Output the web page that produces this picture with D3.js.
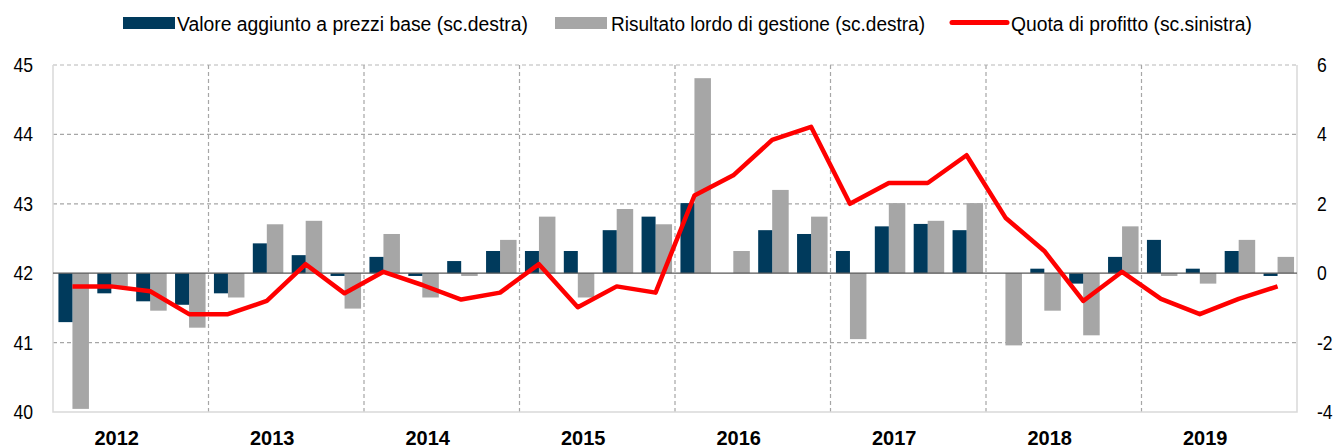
<!DOCTYPE html>
<html>
<head>
    <meta charset="utf-8">
    <title>Quota di profitto</title>
    <script src="https://d3js.org/d3.v7.min.js"></script>
    <style>
        body { margin: 0; background: #fff; }
        svg text { font-family: "Liberation Sans Narrow", "Arial Narrow", "Liberation Sans", Arial, sans-serif; fill: #000; }
        .year { font-family: "Liberation Sans", Arial, sans-serif; font-weight: bold; font-size: 20px; }
    </style>
</head>
<body>
<div id="chart"></div>
<script>
    // dati trimestrali 2012-2019
    const years = ["2012", "2013", "2014", "2015", "2016", "2017", "2018", "2019"];
    const quarters = years.flatMap(y => ["T1", "T2", "T3", "T4"].map(q => y + q));

    // valore aggiunto a prezzi base (scala destra)
    const valoreAggiunto = [
        -1.41, -0.58, -0.81, -0.91,
        -0.58, 0.86, 0.52, -0.08,
        0.47, -0.08, 0.35, 0.64,
        0.64, 0.64, 1.24, 1.63,
        2.02, 0, 1.24, 1.13,
        0.64, 1.35, 1.42, 1.24,
        0, 0.13, -0.30, 0.47,
        0.96, 0.13, 0.64, -0.08
    ];
    // risultato lordo di gestione (scala destra)
    const risultatoLordo = [
        -3.91, -0.38, -1.08, -1.57,
        -0.70, 1.41, 1.51, -1.02,
        1.13, -0.70, -0.08, 0.96,
        1.63, -0.70, 1.85, 1.41,
        5.62, 0.64, 2.40, 1.63,
        -1.90, 2.02, 1.51, 2.02,
        -2.08, -1.08, -1.79, 1.35,
        -0.08, -0.30, 0.96, 0.47
    ];
    // quota di profitto (scala sinistra)
    const quotaProfitto = [
        41.81, 41.81, 41.74, 41.41,
        41.41, 41.60, 42.13, 41.71,
        42.02, 41.83, 41.62, 41.72,
        42.13, 41.51, 41.81, 41.72,
        43.12, 43.41, 43.92, 44.11,
        43.00, 43.30, 43.30, 43.70,
        42.80, 42.32, 41.60, 42.02,
        41.63, 41.41, 41.63, 41.81
    ];
    const leftTicks = [40, 41, 42, 43, 44, 45];
    const rightTicks = [-4, -2, 0, 2, 4, 6];

    const width = 1338, height = 448;
    const margin = { top: 65, right: 41, bottom: 36, left: 53 };

    const svg = d3.select("#chart").append("svg")
        .attr("width", width)
        .attr("height", height);

    const x = d3.scaleBand().domain(quarters).range([margin.left, width - margin.right]).padding(0);
    const xYear = d3.scaleBand().domain(years).range([margin.left, width - margin.right]);
    const yL = d3.scaleLinear().domain([40, 45]).range([height - margin.bottom, margin.top]);
    const yR = d3.scaleLinear().domain([-4, 6]).range([height - margin.bottom, margin.top]);

    const plotL = margin.left, plotR = width - margin.right;
    const plotT = margin.top, plotB = height - margin.bottom;

    // griglia orizzontale tratteggiata
    svg.append("g").selectAll("line")
        .data(leftTicks.filter(d => d !== 40 && d !== 42))
        .join("line")
        .attr("x1", plotL).attr("x2", plotR)
        .attr("y1", d => yL(d)).attr("y2", d => yL(d))
        .attr("stroke", d => d === 45 ? "#d0d0d0" : "#a6a6a6")
        .attr("stroke-width", d => d === 45 ? 1.5 : 1.2)
        .attr("stroke-dasharray", "4,3");

    // griglia verticale tra gli anni
    svg.append("g").selectAll("line")
        .data(years.slice(1))
        .join("line")
        .attr("x1", d => xYear(d)).attr("x2", d => xYear(d))
        .attr("y1", plotT).attr("y2", plotB)
        .attr("stroke", "#a6a6a6")
        .attr("stroke-width", 1.2)
        .attr("stroke-dasharray", "4,3");

    // bordi sinistra / destra / basso
    svg.append("path")
        .attr("d", `M${plotL},${plotT}V${plotB}H${plotR}V${plotT}`)
        .attr("fill", "none")
        .attr("stroke", "#d9d9d9")
        .attr("stroke-width", 1.5);

    const bw = x.bandwidth();

    // barre grigie
    svg.append("g").selectAll("rect")
        .data(risultatoLordo)
        .join("rect")
        .attr("x", (d, i) => x(quarters[i]) + bw / 2)
        .attr("width", 16.5)
        .attr("y", d => yR(Math.max(0, d)))
        .attr("height", d => Math.abs(yR(d) - yR(0)))
        .attr("fill", "#a6a6a6");

    // barre blu
    svg.append("g").selectAll("rect")
        .data(valoreAggiunto)
        .join("rect")
        .attr("x", (d, i) => x(quarters[i]) + bw / 2 - 14)
        .attr("width", 14)
        .attr("y", d => yR(Math.max(0, d)))
        .attr("height", d => Math.abs(yR(d) - yR(0)))
        .attr("fill", "#003a5c");

    // linea dello zero
    svg.append("line")
        .attr("x1", plotL).attr("x2", plotR)
        .attr("y1", yR(0)).attr("y2", yR(0))
        .attr("stroke", "#595959")
        .attr("stroke-width", 1.2);

    // quota di profitto
    const line = d3.line()
        .x((d, i) => x(quarters[i]) + bw / 2)
        .y(d => yL(d));

    svg.append("path")
        .datum(quotaProfitto)
        .attr("d", line)
        .attr("fill", "none")
        .attr("stroke", "#ff0000")
        .attr("stroke-width", 4.5)
        .attr("stroke-linejoin", "round");

    // assi (etichette un po' strette, come Arial Narrow)
    svg.append("g").selectAll("text")
        .data(leftTicks)
        .join("text")
        .attr("transform", d => `translate(33,${yL(d)}) scale(0.88,1)`)
        .attr("dy", "0.35em")
        .attr("text-anchor", "end")
        .style("font-size", "20px")
        .text(d => d);

    svg.append("g").selectAll("text")
        .data(rightTicks)
        .join("text")
        .attr("transform", d => `translate(1317,${yR(d)}) scale(0.88,1)`)
        .attr("dy", "0.35em")
        .style("font-size", "20px")
        .text(d => d);

    svg.append("g").selectAll("text")
        .data(years)
        .join("text")
        .attr("class", "year")
        .attr("x", d => xYear(d) + xYear.bandwidth() / 2 - 14)
        .attr("y", 445)
        .attr("text-anchor", "middle")
        .text(d => d);

    // legenda
    const legend = svg.append("g");
    const items = [
        { label: "Valore aggiunto a prezzi base (sc.destra)", color: "#003a5c", type: "rect", x: 123, tx: 177, len: 351 },
        { label: "Risultato lordo di gestione (sc.destra)", color: "#a6a6a6", type: "rect", x: 555, tx: 611, len: 314 },
        { label: "Quota di profitto (sc.sinistra)", color: "#ff0000", type: "line", x: 952, tx: 1011, len: 241 }
    ];
    items.forEach(it => {
        if (it.type === "rect") {
            legend.append("rect")
                .attr("x", it.x).attr("y", 17)
                .attr("width", 52).attr("height", 12)
                .attr("fill", it.color);
        } else {
            legend.append("line")
                .attr("x1", it.x).attr("x2", it.x + 55)
                .attr("y1", 22.5).attr("y2", 22.5)
                .attr("stroke", it.color)
                .attr("stroke-width", 5)
                .attr("stroke-linecap", "round");
        }
        legend.append("text")
            .attr("x", it.tx)
            .attr("y", 31)
            .attr("textLength", it.len)
            .attr("lengthAdjust", "spacingAndGlyphs")
            .style("font-size", "20px")
            .text(it.label);
    });
</script>
</body>
</html>
